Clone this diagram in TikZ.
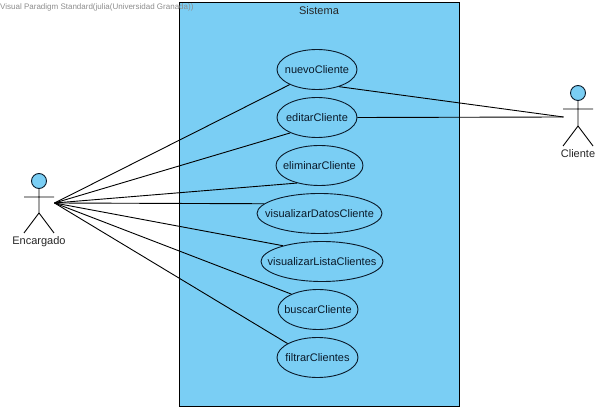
\documentclass[tikz,border=0pt]{standalone}
\usepackage{fontspec}
\setmainfont{Liberation Sans}
\usetikzlibrary{shapes.geometric}
\definecolor{umlblue}{HTML}{7ACEF4}
\definecolor{umlline}{HTML}{0A1A2A}
\newcommand{\uctext}[1]{\makebox[0pt]{#1}}
\tikzset{uc/.append style={draw=umlline,fill=umlblue,ellipse,inner sep=0pt,minimum height=40pt,font=\fontsize{11}{13}\selectfont,text=umlline,line width=0.9pt}}
\tikzset{lbl/.append style={inner sep=0pt,font=\fontsize{11}{13}\selectfont,text=black!85}}
\tikzset{head/.append style={draw=umlline,fill=umlblue,circle,inner sep=0pt,minimum size=15pt,line width=0.9pt}}
\tikzset{link/.append style={draw=black,line width=0.9pt}}

\begin{document}
\begin{tikzpicture}[x=1pt,y=-1pt]
                \useasboundingbox (0,0) rectangle (610,411);
                \node[draw=black,fill=umlblue,line width=1pt,minimum width=279.5pt,minimum height=403pt,inner sep=0pt] (sistema) at (319.4,204.5) {};
                \node[lbl] (titulo) at (319,10.5) {Sistema};
                % casos de uso
                \node[uc,minimum width=80pt] (nuevo) at (317,69.5) {\uctext{nuevoCliente}};
                \node[uc,minimum width=80pt] (editar) at (317,117.5) {\uctext{editarCliente}};
                \node[uc,minimum width=87pt] (eliminar) at (319.5,165.5) {\uctext{eliminarCliente}};
                \node[uc,minimum width=125pt] (datos) at (319.5,213.5) {\uctext{visualizarDatosCliente}};
                \node[uc,minimum width=122pt] (lista) at (322,261.5) {\uctext{visualizarListaClientes}};
                \node[uc,minimum width=80pt] (buscar) at (318,309.5) {\uctext{buscarCliente}};
                \node[uc,minimum width=81pt] (filtrar) at (317.5,357.5) {\uctext{filtrarClientes}};
                % actores
                \node[head] (cabezaE) at (39,181) {};
                \coordinate (caderaE) at (39,213);
                \coordinate (manoE) at (54.5,203);
                \node[lbl] (encargado) at (39,241.5) {Encargado};
                \draw[link] (cabezaE) -- (caderaE) -- (24,233) (caderaE) -- (54,233) (24,197) -- (54,197);
                \node[head] (cabezaC) at (578,93) {};
                \coordinate (caderaC) at (578,126);
                \coordinate (manoC) at (563.5,117);
                \node[lbl] (cliente) at (578,153.5) {Cliente};
                \draw[link] (cabezaC) -- (caderaC) -- (563,146) (caderaC) -- (593,146) (563,109) -- (593,109);
                % asociaciones
                \draw[link] (manoE) -- (nuevo.209);
                \draw[link] (manoE) -- (editar.210);
                \draw[link] (manoE) -- (eliminar.218);
                \draw[link] (manoE) -- (datos.170);
                \draw[link] (manoE) -- (lista.158);
                \draw[link] (manoE) -- (buscar.150);
                \draw[link] (manoE) -- (filtrar.155);
                \draw[link] (nuevo.-38) -- (manoC);
                \draw[link] (editar.east) -- (manoC);
                \node[anchor=west,inner sep=0pt,text=black!45,font=\fontsize{8}{10}\selectfont] (marca) at (0,7) {Visual Paradigm Standard(julia(Universidad Granada))};
\end{tikzpicture}
\end{document}
